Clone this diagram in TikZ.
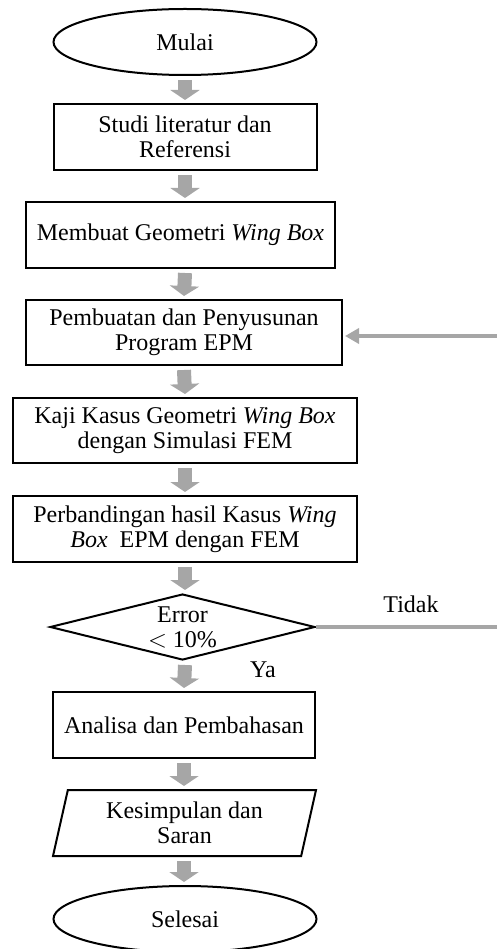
\documentclass[tikz,border=0pt]{standalone}
\usepackage{fontspec}
\setmainfont{Liberation Serif}
\usepackage{tikz}
\usetikzlibrary{arrows.meta, shapes.geometric, positioning}

\definecolor{abu}{RGB}{166,166,166}

\begin{document}
\begin{tikzpicture}[x=1pt, y=-1pt,
    font=\fontsize{24}{25}\selectfont,
    proses/.style={draw, line width=2pt, rectangle, align=center, inner sep=2pt},
    terminal/.style={draw, line width=2pt, ellipse, minimum width=263pt, minimum height=66pt},
    keputusan/.style={draw, line width=2pt, diamond, aspect=4, inner sep=0pt, align=center,
        minimum width=265pt, minimum height=66pt},
    dataio/.style={draw, line width=2pt, trapezium, trapezium left angle=73, trapezium right angle=107,
        trapezium stretches body, align=center, minimum width=263pt, minimum height=66pt},
    panah/.style={abu, line width=14pt, -{Triangle[width=29pt, length=10pt]}},
    garis/.style={abu, line width=3.5pt}]
    \useasboundingbox (0,0) rectangle (497,949);

    % Bagan alir
    \node[terminal] (mulai) at (185,42) {Mulai};
    \node[proses, minimum width=263pt, minimum height=66pt] (studi) at (185,137)
        {Studi literatur dan\\Referensi};
    \node[proses, minimum width=309pt, minimum height=66pt] (geometri) at (180.5,235)
        {Membuat Geometri \textit{Wing Box}};
    \node[proses, minimum width=316pt, minimum height=65pt] (program) at (184,332.5)
        {Pembuatan dan Penyusunan\\Program EPM};
    \node[proses, minimum width=344pt, minimum height=65pt] (kaji) at (185,430.5)
        {Kaji Kasus Geometri \textit{Wing Box}\\dengan Simulasi FEM};
    \node[proses, minimum width=344pt, minimum height=66pt] (banding) at (185,529)
        {Perbandingan hasil Kasus \textit{Wing}\\\textit{Box} \ EPM dengan FEM};
    \node[keputusan] (cek) at (182.5,627) {Error\\$<$ 10\%};
    \node[proses, minimum width=262pt, minimum height=66pt] (analisa) at (184,725)
        {Analisa dan Pembahasan};
    \node[dataio] (simpulan) at (184.5,823) {Kesimpulan dan\\Saran};
    \node[terminal] (selesai) at (185,919) {Selesai};

    % Keterangan
    \node[anchor=base] (tidak) at (411,612) {Tidak};
    \node[anchor=base] (ya) at (263,677) {Ya};

    % Panah
    \draw[panah] ([yshift=-4pt]mulai.south) -- ([yshift=3pt]studi.north);
    \draw[panah] ([yshift=-4pt]studi.south) -- ([yshift=3pt]studi.south |- geometri.north);
    \draw[panah] ([yshift=-4pt]studi.south |- geometri.south) -- ([yshift=3pt]program.north);
    \draw[panah] ([yshift=-4pt]program.south) -- ([yshift=3pt]kaji.north);
    \draw[panah] ([yshift=-4pt]kaji.south) -- ([yshift=3pt]banding.north);
    \draw[panah] ([yshift=-4pt]banding.south) -- ([yshift=3pt]banding.south |- cek.north);
    \draw[panah] ([yshift=-4pt]banding.south |- cek.south) -- ([yshift=3pt]analisa.north);
    \draw[panah] ([yshift=-4pt]analisa.south) -- ([yshift=3pt]analisa.south |- simpulan.north);
    \draw[panah] ([yshift=-4pt]analisa.south |- simpulan.south) -- ([yshift=3pt]analisa.south |- selesai.north);

    % Umpan balik
    \coordinate (ujung) at (497,336);
    \coordinate (keluar) at (497,627);
    \draw[garis, -{Triangle[width=15pt, length=14pt]}] (ujung) -- ([xshift=2pt]ujung -| program.east);
    \draw[garis] (cek.east) -- (keluar);
\end{tikzpicture}
\end{document}
